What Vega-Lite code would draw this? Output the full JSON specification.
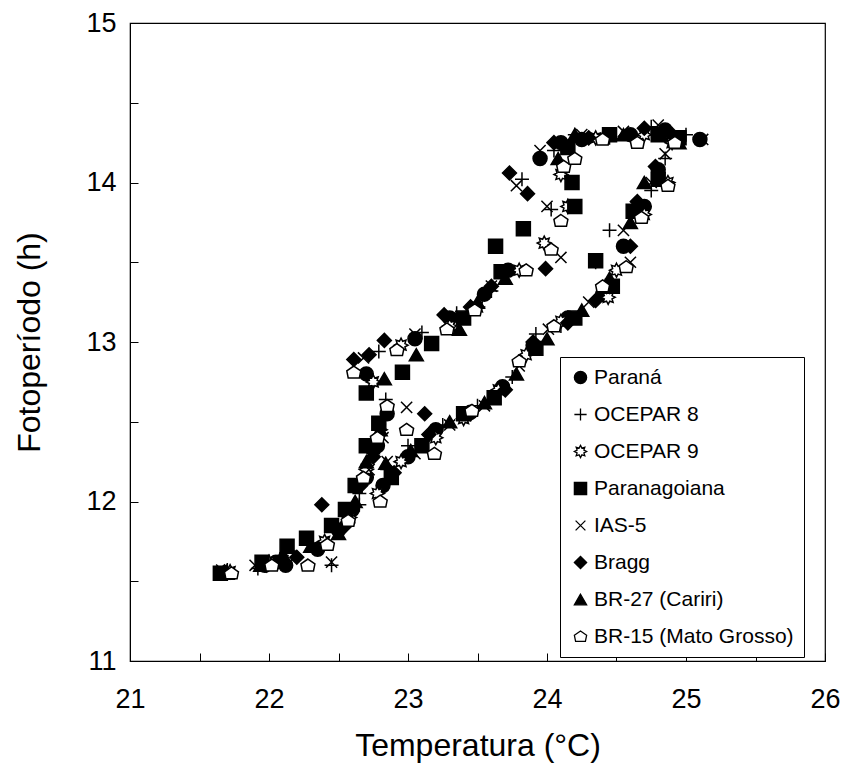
{
"$schema": "https://vega.github.io/schema/vega-lite/v6.json",
"width": 695, "height": 638,
"autosize": {"type": "none"},
"padding": {"left": 130, "top": 23, "right": 16, "bottom": 110},
"background": "white",
"config": {"font": "Liberation Sans", "view": {"stroke": "black", "strokeWidth": 1.2}},
"data": {"values": [
{"c":"Paraná","t":21.68,"p":11.55},{"c":"Paraná","t":21.97,"p":11.6},{"c":"Paraná","t":22.05,"p":11.62},{"c":"Paraná","t":22.12,"p":11.6},{"c":"Paraná","t":22.35,"p":11.7},{"c":"Paraná","t":22.5,"p":11.82},{"c":"Paraná","t":22.6,"p":11.95},{"c":"Paraná","t":22.7,"p":12.15},{"c":"Paraná","t":22.78,"p":12.35},{"c":"Paraná","t":22.85,"p":12.55},{"c":"Paraná","t":22.7,"p":12.8},{"c":"Paraná","t":23.05,"p":13.02},{"c":"Paraná","t":23.3,"p":13.15},{"c":"Paraná","t":23.55,"p":13.3},{"c":"Paraná","t":23.72,"p":13.45},{"c":"Paraná","t":23.95,"p":14.15},{"c":"Paraná","t":24.1,"p":14.25},{"c":"Paraná","t":24.25,"p":14.27},{"c":"Paraná","t":24.6,"p":14.3},{"c":"Paraná","t":24.85,"p":14.33},{"c":"Paraná","t":25.1,"p":14.27},{"c":"Paraná","t":24.8,"p":14.08},{"c":"Paraná","t":24.7,"p":13.85},{"c":"Paraná","t":24.55,"p":13.6},{"c":"Paraná","t":24.4,"p":13.3},{"c":"Paraná","t":24.15,"p":13.15},{"c":"Paraná","t":23.9,"p":12.98},{"c":"Paraná","t":23.68,"p":12.72},{"c":"Paraná","t":23.45,"p":12.56},{"c":"Paraná","t":23.2,"p":12.45},{"c":"Paraná","t":23.0,"p":12.28},{"c":"Paraná","t":22.82,"p":12.1},
{"c":"OCEPAR 8","t":21.7,"p":11.57},{"c":"OCEPAR 8","t":21.92,"p":11.58},{"c":"OCEPAR 8","t":22.08,"p":11.64},{"c":"OCEPAR 8","t":22.45,"p":11.6},{"c":"OCEPAR 8","t":22.55,"p":11.85},{"c":"OCEPAR 8","t":22.65,"p":12.05},{"c":"OCEPAR 8","t":22.75,"p":12.3},{"c":"OCEPAR 8","t":22.84,"p":12.64},{"c":"OCEPAR 8","t":22.79,"p":12.94},{"c":"OCEPAR 8","t":23.1,"p":13.06},{"c":"OCEPAR 8","t":23.35,"p":13.18},{"c":"OCEPAR 8","t":23.6,"p":13.32},{"c":"OCEPAR 8","t":23.82,"p":14.02},{"c":"OCEPAR 8","t":24.03,"p":13.83},{"c":"OCEPAR 8","t":24.05,"p":14.2},{"c":"OCEPAR 8","t":24.2,"p":14.3},{"c":"OCEPAR 8","t":24.45,"p":14.28},{"c":"OCEPAR 8","t":24.75,"p":14.35},{"c":"OCEPAR 8","t":25.0,"p":14.3},{"c":"OCEPAR 8","t":24.85,"p":14.15},{"c":"OCEPAR 8","t":24.75,"p":13.95},{"c":"OCEPAR 8","t":24.45,"p":13.7},{"c":"OCEPAR 8","t":24.35,"p":13.5},{"c":"OCEPAR 8","t":24.1,"p":13.1},{"c":"OCEPAR 8","t":23.92,"p":13.05},{"c":"OCEPAR 8","t":23.75,"p":12.78},{"c":"OCEPAR 8","t":23.5,"p":12.6},{"c":"OCEPAR 8","t":23.25,"p":12.48},{"c":"OCEPAR 8","t":23.0,"p":12.35},{"c":"OCEPAR 8","t":22.85,"p":12.2},{"c":"OCEPAR 8","t":22.65,"p":11.98},
{"c":"OCEPAR 9","t":21.72,"p":11.56},{"c":"OCEPAR 9","t":22.0,"p":11.62},{"c":"OCEPAR 9","t":22.15,"p":11.66},{"c":"OCEPAR 9","t":22.4,"p":11.75},{"c":"OCEPAR 9","t":22.58,"p":11.9},{"c":"OCEPAR 9","t":22.7,"p":12.2},{"c":"OCEPAR 9","t":22.8,"p":12.45},{"c":"OCEPAR 9","t":22.75,"p":12.75},{"c":"OCEPAR 9","t":22.95,"p":12.98},{"c":"OCEPAR 9","t":23.3,"p":13.1},{"c":"OCEPAR 9","t":23.5,"p":13.22},{"c":"OCEPAR 9","t":23.8,"p":13.45},{"c":"OCEPAR 9","t":23.98,"p":13.62},{"c":"OCEPAR 9","t":24.1,"p":14.05},{"c":"OCEPAR 9","t":24.15,"p":13.85},{"c":"OCEPAR 9","t":24.35,"p":14.28},{"c":"OCEPAR 9","t":24.7,"p":14.3},{"c":"OCEPAR 9","t":24.9,"p":14.25},{"c":"OCEPAR 9","t":24.87,"p":14.0},{"c":"OCEPAR 9","t":24.7,"p":13.8},{"c":"OCEPAR 9","t":24.5,"p":13.45},{"c":"OCEPAR 9","t":24.44,"p":13.28},{"c":"OCEPAR 9","t":24.1,"p":13.13},{"c":"OCEPAR 9","t":23.85,"p":12.92},{"c":"OCEPAR 9","t":23.65,"p":12.7},{"c":"OCEPAR 9","t":23.4,"p":12.52},{"c":"OCEPAR 9","t":23.2,"p":12.4},{"c":"OCEPAR 9","t":22.95,"p":12.25},{"c":"OCEPAR 9","t":22.78,"p":12.05},
{"c":"Paranagoiana","t":21.65,"p":11.55},{"c":"Paranagoiana","t":21.95,"p":11.62},{"c":"Paranagoiana","t":22.13,"p":11.72},{"c":"Paranagoiana","t":22.27,"p":11.77},{"c":"Paranagoiana","t":22.45,"p":11.85},{"c":"Paranagoiana","t":22.55,"p":11.95},{"c":"Paranagoiana","t":22.62,"p":12.1},{"c":"Paranagoiana","t":22.7,"p":12.35},{"c":"Paranagoiana","t":22.79,"p":12.49},{"c":"Paranagoiana","t":22.7,"p":12.68},{"c":"Paranagoiana","t":22.96,"p":12.81},{"c":"Paranagoiana","t":23.17,"p":12.99},{"c":"Paranagoiana","t":23.4,"p":13.15},{"c":"Paranagoiana","t":23.63,"p":13.6},{"c":"Paranagoiana","t":23.67,"p":13.44},{"c":"Paranagoiana","t":23.83,"p":13.71},{"c":"Paranagoiana","t":24.2,"p":13.85},{"c":"Paranagoiana","t":24.18,"p":14.0},{"c":"Paranagoiana","t":24.15,"p":14.22},{"c":"Paranagoiana","t":24.45,"p":14.3},{"c":"Paranagoiana","t":24.8,"p":14.3},{"c":"Paranagoiana","t":24.95,"p":14.28},{"c":"Paranagoiana","t":24.8,"p":14.02},{"c":"Paranagoiana","t":24.62,"p":13.82},{"c":"Paranagoiana","t":24.35,"p":13.51},{"c":"Paranagoiana","t":24.47,"p":13.35},{"c":"Paranagoiana","t":24.2,"p":13.15},{"c":"Paranagoiana","t":23.92,"p":12.96},{"c":"Paranagoiana","t":23.62,"p":12.65},{"c":"Paranagoiana","t":23.4,"p":12.55},{"c":"Paranagoiana","t":23.1,"p":12.35},{"c":"Paranagoiana","t":22.88,"p":12.15},
{"c":"IAS-5","t":21.66,"p":11.57},{"c":"IAS-5","t":21.9,"p":11.6},{"c":"IAS-5","t":22.1,"p":11.63},{"c":"IAS-5","t":22.45,"p":11.62},{"c":"IAS-5","t":22.55,"p":11.9},{"c":"IAS-5","t":22.72,"p":12.2},{"c":"IAS-5","t":22.82,"p":12.4},{"c":"IAS-5","t":22.99,"p":12.59},{"c":"IAS-5","t":22.68,"p":12.9},{"c":"IAS-5","t":23.05,"p":13.05},{"c":"IAS-5","t":23.38,"p":13.16},{"c":"IAS-5","t":23.6,"p":13.35},{"c":"IAS-5","t":23.78,"p":13.98},{"c":"IAS-5","t":24.0,"p":13.85},{"c":"IAS-5","t":24.1,"p":13.53},{"c":"IAS-5","t":23.95,"p":14.2},{"c":"IAS-5","t":24.25,"p":14.3},{"c":"IAS-5","t":24.55,"p":14.32},{"c":"IAS-5","t":24.8,"p":14.36},{"c":"IAS-5","t":25.12,"p":14.27},{"c":"IAS-5","t":24.85,"p":14.18},{"c":"IAS-5","t":24.75,"p":14.0},{"c":"IAS-5","t":24.55,"p":13.7},{"c":"IAS-5","t":24.6,"p":13.5},{"c":"IAS-5","t":24.3,"p":13.25},{"c":"IAS-5","t":24.01,"p":13.08},{"c":"IAS-5","t":23.8,"p":12.85},{"c":"IAS-5","t":23.55,"p":12.6},{"c":"IAS-5","t":23.3,"p":12.48},{"c":"IAS-5","t":23.05,"p":12.3},{"c":"IAS-5","t":22.85,"p":12.25},
{"c":"Bragg","t":21.68,"p":11.56},{"c":"Bragg","t":21.98,"p":11.6},{"c":"Bragg","t":22.2,"p":11.65},{"c":"Bragg","t":22.38,"p":11.98},{"c":"Bragg","t":22.55,"p":11.85},{"c":"Bragg","t":22.66,"p":12.1},{"c":"Bragg","t":22.75,"p":12.28},{"c":"Bragg","t":22.61,"p":12.89},{"c":"Bragg","t":22.72,"p":12.92},{"c":"Bragg","t":22.83,"p":13.01},{"c":"Bragg","t":23.12,"p":12.55},{"c":"Bragg","t":23.26,"p":13.17},{"c":"Bragg","t":23.45,"p":13.22},{"c":"Bragg","t":23.6,"p":13.35},{"c":"Bragg","t":23.73,"p":14.06},{"c":"Bragg","t":23.86,"p":13.93},{"c":"Bragg","t":23.99,"p":13.46},{"c":"Bragg","t":24.05,"p":14.25},{"c":"Bragg","t":24.3,"p":14.28},{"c":"Bragg","t":24.7,"p":14.34},{"c":"Bragg","t":24.9,"p":14.3},{"c":"Bragg","t":24.78,"p":14.1},{"c":"Bragg","t":24.65,"p":13.88},{"c":"Bragg","t":24.6,"p":13.6},{"c":"Bragg","t":24.35,"p":13.26},{"c":"Bragg","t":24.15,"p":13.12},{"c":"Bragg","t":23.9,"p":13.0},{"c":"Bragg","t":23.7,"p":12.7},{"c":"Bragg","t":23.45,"p":12.55},{"c":"Bragg","t":23.15,"p":12.42},{"c":"Bragg","t":22.9,"p":12.18},
{"c":"BR-27 (Cariri)","t":21.7,"p":11.55},{"c":"BR-27 (Cariri)","t":21.94,"p":11.6},{"c":"BR-27 (Cariri)","t":22.1,"p":11.67},{"c":"BR-27 (Cariri)","t":22.3,"p":11.72},{"c":"BR-27 (Cariri)","t":22.5,"p":11.8},{"c":"BR-27 (Cariri)","t":22.62,"p":12.0},{"c":"BR-27 (Cariri)","t":22.7,"p":12.25},{"c":"BR-27 (Cariri)","t":22.8,"p":12.45},{"c":"BR-27 (Cariri)","t":22.83,"p":12.77},{"c":"BR-27 (Cariri)","t":23.06,"p":12.92},{"c":"BR-27 (Cariri)","t":23.37,"p":13.08},{"c":"BR-27 (Cariri)","t":23.5,"p":13.25},{"c":"BR-27 (Cariri)","t":23.7,"p":13.4},{"c":"BR-27 (Cariri)","t":24.08,"p":14.15},{"c":"BR-27 (Cariri)","t":24.2,"p":14.3},{"c":"BR-27 (Cariri)","t":24.55,"p":14.3},{"c":"BR-27 (Cariri)","t":24.82,"p":14.3},{"c":"BR-27 (Cariri)","t":24.95,"p":14.25},{"c":"BR-27 (Cariri)","t":24.7,"p":14.0},{"c":"BR-27 (Cariri)","t":24.6,"p":13.75},{"c":"BR-27 (Cariri)","t":24.45,"p":13.4},{"c":"BR-27 (Cariri)","t":24.25,"p":13.2},{"c":"BR-27 (Cariri)","t":24.0,"p":13.02},{"c":"BR-27 (Cariri)","t":23.78,"p":12.8},{"c":"BR-27 (Cariri)","t":23.55,"p":12.62},{"c":"BR-27 (Cariri)","t":23.3,"p":12.5},{"c":"BR-27 (Cariri)","t":23.02,"p":12.32},{"c":"BR-27 (Cariri)","t":22.84,"p":12.24},
{"c":"BR-15 (Mato Grosso)","t":21.73,"p":11.55},{"c":"BR-15 (Mato Grosso)","t":22.02,"p":11.6},{"c":"BR-15 (Mato Grosso)","t":22.28,"p":11.6},{"c":"BR-15 (Mato Grosso)","t":22.42,"p":11.73},{"c":"BR-15 (Mato Grosso)","t":22.57,"p":11.88},{"c":"BR-15 (Mato Grosso)","t":22.68,"p":12.15},{"c":"BR-15 (Mato Grosso)","t":22.78,"p":12.4},{"c":"BR-15 (Mato Grosso)","t":22.85,"p":12.6},{"c":"BR-15 (Mato Grosso)","t":22.61,"p":12.81},{"c":"BR-15 (Mato Grosso)","t":22.92,"p":12.95},{"c":"BR-15 (Mato Grosso)","t":23.28,"p":13.08},{"c":"BR-15 (Mato Grosso)","t":23.48,"p":13.2},{"c":"BR-15 (Mato Grosso)","t":23.85,"p":13.45},{"c":"BR-15 (Mato Grosso)","t":24.03,"p":13.58},{"c":"BR-15 (Mato Grosso)","t":24.1,"p":13.76},{"c":"BR-15 (Mato Grosso)","t":24.12,"p":14.1},{"c":"BR-15 (Mato Grosso)","t":24.2,"p":14.15},{"c":"BR-15 (Mato Grosso)","t":24.4,"p":14.27},{"c":"BR-15 (Mato Grosso)","t":24.65,"p":14.25},{"c":"BR-15 (Mato Grosso)","t":24.92,"p":14.25},{"c":"BR-15 (Mato Grosso)","t":24.87,"p":13.98},{"c":"BR-15 (Mato Grosso)","t":24.68,"p":13.78},{"c":"BR-15 (Mato Grosso)","t":24.57,"p":13.47},{"c":"BR-15 (Mato Grosso)","t":24.4,"p":13.35},{"c":"BR-15 (Mato Grosso)","t":24.05,"p":13.1},{"c":"BR-15 (Mato Grosso)","t":23.8,"p":12.88},{"c":"BR-15 (Mato Grosso)","t":23.46,"p":12.57},{"c":"BR-15 (Mato Grosso)","t":23.19,"p":12.3},{"c":"BR-15 (Mato Grosso)","t":22.99,"p":12.45},{"c":"BR-15 (Mato Grosso)","t":22.8,"p":12.0}
]},
"mark": {"type": "point", "filled": true, "strokeWidth": 1.5, "opacity": 1, "size": 195},
"encoding": {
  "x": {"field": "t", "type": "quantitative",
    "scale": {"domain": [21, 26], "nice": false, "zero": false},
    "axis": {"title": "Temperatura (°C)", "values": [21,21.5,22,22.5,23,23.5,24,24.5,25,25.5,26],
      "labelExpr": "datum.value % 1 === 0 ? format(datum.value, 'd') : ''",
      "grid": false, "tickSize": -8, "labelPadding": 33, "labelFontSize": 27, "labelColor": "black",
      "titleFontSize": 32, "titleFontWeight": "normal", "titleColor": "black", "titlePadding": 18,
      "domainColor": "black", "tickColor": "black", "labelFlush": false}},
  "y": {"field": "p", "type": "quantitative",
    "scale": {"domain": [11, 15], "nice": false, "zero": false},
    "axis": {"title": "Fotoperíodo (h)", "values": [11,11.5,12,12.5,13,13.5,14,14.5,15],
      "labelExpr": "datum.value % 1 === 0 ? format(datum.value, 'd') : ''",
      "grid": false, "tickSize": -8, "labelPadding": 22, "labelFontSize": 27, "labelColor": "black",
      "titleFontSize": 32, "titleFontWeight": "normal", "titleColor": "black", "titlePadding": 39,
      "domainColor": "black", "tickColor": "black", "labelFlush": false}},
  "shape": {"field": "c", "type": "nominal",
    "scale": {"domain": ["Paraná","OCEPAR 8","OCEPAR 9","Paranagoiana","IAS-5","Bragg","BR-27 (Cariri)","BR-15 (Mato Grosso)"],
      "range": ["circle","M-1,0L1,0M0,-1L0,1","M0,-1L0.23,-0.554L0.707,-0.707L0.554,-0.23L1,0L0.554,0.23L0.707,0.707L0.23,0.554L0,1L-0.23,0.554L-0.707,0.707L-0.554,0.23L-1,0L-0.554,-0.23L-0.707,-0.707L-0.23,-0.554Z","square","M-0.8,-0.8L0.8,0.8M-0.8,0.8L0.8,-0.8","diamond","triangle-up","M0,-0.9L1,-0.2L0.8,0.8L-0.8,0.8L-1,-0.2Z"]},
    "legend": {"title": null, "orient": "none", "legendX": 430, "legendY": 334, "strokeColor": "black", "padding": 10,
      "labelFontSize": 21, "labelColor": "black", "rowPadding": 15, "symbolSize": 150, "symbolStrokeWidth": 1.3, "labelLimit": 400, "labelOffset": 3, "fillColor": "white"}},
  "fill": {"field": "c", "type": "nominal",
    "scale": {"domain": ["Paraná","OCEPAR 8","OCEPAR 9","Paranagoiana","IAS-5","Bragg","BR-27 (Cariri)","BR-15 (Mato Grosso)"],
      "range": ["black","white","white","black","white","black","black","white"]}},
  "stroke": {"field": "c", "type": "nominal",
    "scale": {"domain": ["Paraná","OCEPAR 8","OCEPAR 9","Paranagoiana","IAS-5","Bragg","BR-27 (Cariri)","BR-15 (Mato Grosso)"],
      "range": ["black","black","black","black","black","black","black","black"]}}
}
}
